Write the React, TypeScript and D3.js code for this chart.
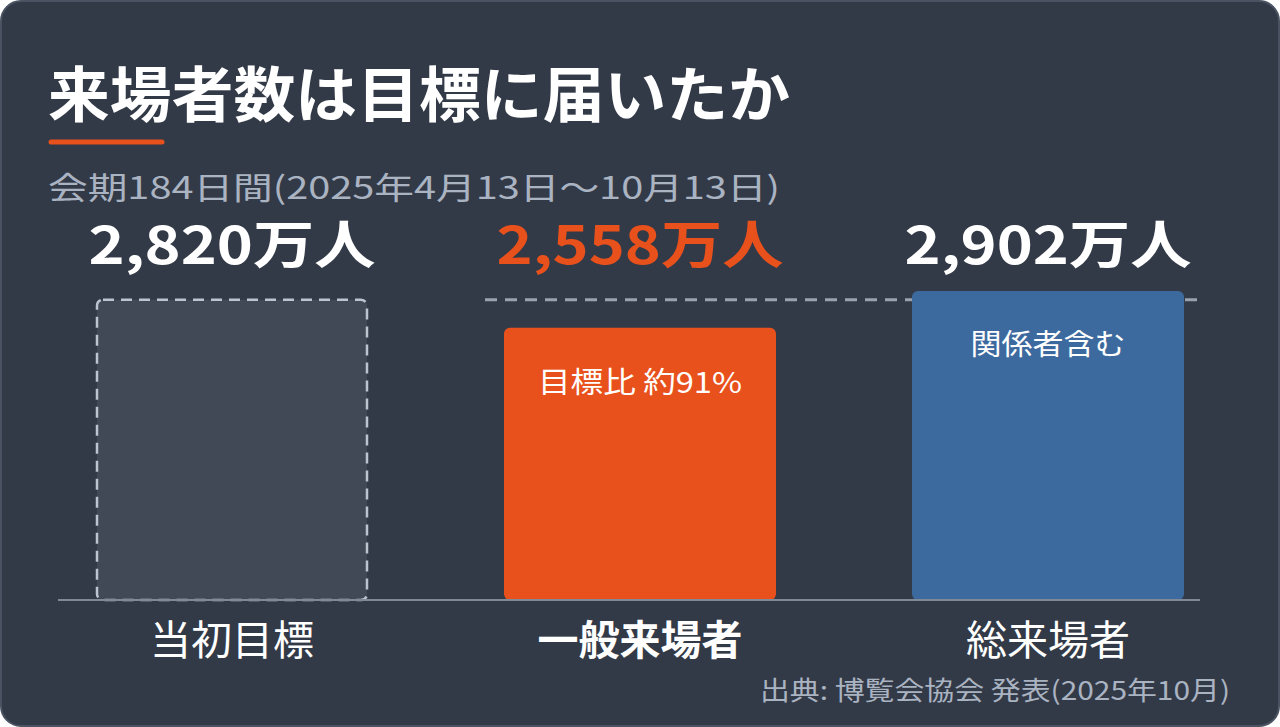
import React, { useRef, useEffect } from 'react';
import * as d3 from 'd3';

// chart data
const categories = ['当初目標', '一般来場者', '総来場者'];
const visitors = [2820, 2558, 2902]; // 万人
const valueLabels = ['2,820万人', '2,558万人', '2,902万人'];
const barNotes = ['', '目標比 約91%', '関係者含む'];
const targetValue = 2820;

const title = '来場者数は目標に届いたか';
const subtitle = '会期184日間(2025年4月13日〜10月13日)';
const source = '出典: 博覧会協会 発表(2025年10月)';

const FONT = '"Noto Sans CJK JP", "Noto Sans", sans-serif';

const App: React.FC = () => {
  const svgRef = useRef<SVGSVGElement>(null);
  const width = 1280;
  const height = 727;

  useEffect(() => {
    const svg = d3.select(svgRef.current);
    svg.selectAll('*').remove();

    // card background
    svg.append('rect')
      .attr('x', 1).attr('y', 1)
      .attr('width', width - 2).attr('height', height - 2)
      .attr('rx', 20)
      .attr('fill', '#333a47')
      .attr('stroke', '#4b5363')
      .attr('stroke-width', 2);

    // title
    svg.append('text')
      .attr('x', 48).attr('y', 117)
      .attr('font-family', FONT)
      .attr('font-weight', 700)
      .attr('font-size', 60)
      .attr('fill', '#ffffff')
      .attr('textLength', 742)
      .attr('lengthAdjust', 'spacingAndGlyphs')
      .text(title);

    svg.append('line')
      .attr('x1', 51).attr('x2', 162)
      .attr('y1', 142).attr('y2', 142)
      .attr('stroke', '#e8501c')
      .attr('stroke-width', 5)
      .attr('stroke-linecap', 'round');

    svg.append('text')
      .attr('x', 48).attr('y', 199)
      .attr('font-family', FONT)
      .attr('font-size', 31)
      .attr('fill', '#aab3c1')
      .attr('textLength', 732)
      .attr('lengthAdjust', 'spacingAndGlyphs')
      .text(subtitle);

    // scales
    const x = d3.scaleBand<string>()
      .domain(categories)
      .range([28, 1252])
      .paddingInner(1 / 3)
      .paddingOuter(1 / 6);

    const y = d3.scaleLinear()
      .domain([0, 2902])
      .range([600, 291]);

    // target dashed line (behind bars)
    svg.append('line')
      .attr('x1', 485).attr('x2', 1200)
      .attr('y1', y(targetValue)).attr('y2', y(targetValue))
      .attr('stroke', '#9aa2ae')
      .attr('stroke-width', 3)
      .attr('stroke-dasharray', '12 8');

    const fills = ['#414856', '#e8501c', '#3d6a9e'];
    const noteWidths = [0, 204, 155];

    categories.forEach((c, i) => {
      const bx = x(c) as number;
      const bw = x.bandwidth();
      const top = y(visitors[i]);
      const rect = svg.append('rect')
        .attr('x', bx).attr('y', top)
        .attr('width', bw).attr('height', y(0) - top)
        .attr('rx', 6)
        .attr('fill', fills[i]);
      if (i === 0) {
        rect.attr('x', bx + 1).attr('width', bw - 2)
          .attr('stroke', '#bcc4cf')
          .attr('stroke-width', 2.5)
          .attr('stroke-dasharray', '11 7');
      }

      const cx = bx + bw / 2;

      // value label
      svg.append('text')
        .attr('x', cx).attr('y', 264)
        .attr('text-anchor', 'middle')
        .attr('font-family', FONT)
        .attr('font-weight', 700)
        .attr('font-size', 52)
        .attr('fill', i === 1 ? '#e8501c' : '#ffffff')
        .attr('textLength', 287)
        .attr('lengthAdjust', 'spacingAndGlyphs')
        .text(valueLabels[i]);

      // note inside bar
      if (barNotes[i]) {
        svg.append('text')
          .attr('x', cx).attr('y', i === 1 ? 393 : 355)
          .attr('text-anchor', 'middle')
          .attr('font-family', FONT)
          .attr('font-size', 29)
          .attr('fill', '#ffffff')
          .attr('textLength', noteWidths[i])
          .attr('lengthAdjust', 'spacingAndGlyphs')
          .text(barNotes[i]);
      }

      // category label
      svg.append('text')
        .attr('x', cx).attr('y', 655)
        .attr('text-anchor', 'middle')
        .attr('font-family', FONT)
        .attr('font-weight', i === 1 ? 700 : 400)
        .attr('font-size', 41)
        .attr('fill', '#ffffff')
        .text(c);
    });

    // baseline
    svg.append('line')
      .attr('x1', 58).attr('x2', 1200)
      .attr('y1', y(0)).attr('y2', y(0))
      .attr('stroke', '#808997')
      .attr('stroke-width', 2);

    // source
    svg.append('text')
      .attr('x', 1230).attr('y', 700)
      .attr('text-anchor', 'end')
      .attr('font-family', FONT)
      .attr('font-size', 26)
      .attr('fill', '#aab3c1')
      .attr('textLength', 470)
      .attr('lengthAdjust', 'spacingAndGlyphs')
      .text(source);
  }, []);

  return (
    <div style={{ position: 'fixed', left: 0, top: 0, background: '#ffffff' }}>
      <svg ref={svgRef} width={width} height={height} style={{ display: 'block' }} />
    </div>
  );
};

export default App;
